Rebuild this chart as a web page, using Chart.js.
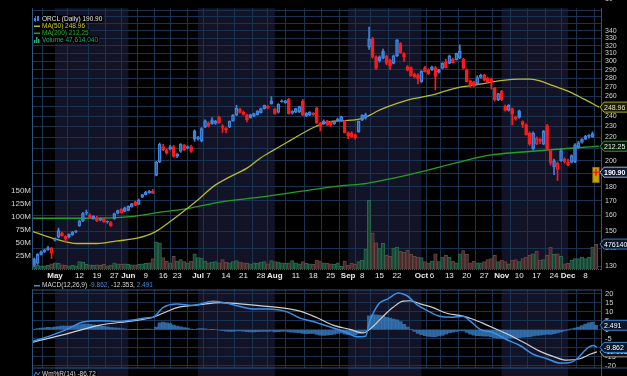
<!DOCTYPE html>
<html lang="en">
<head>
  <meta charset="UTF-8">
  <title>ORCL (Daily)</title>
  <style>
    html, body { margin: 0; padding: 0; background: #000; overflow: hidden; }
    #wrap { position: relative; width: 627px; height: 376px; }
    canvas { position: absolute; left: 0; display: block; }
    #priceChart { top: 0; }
    #macdChart { top: 281px; }
  </style>
</head>
<body>
  <div id="wrap">
    <canvas id="priceChart" width="627" height="281"></canvas>
    <canvas id="macdChart" width="627" height="95"></canvas>
  </div>
  <script src="https://cdn.jsdelivr.net/npm/chart.js"></script>
  <script>
    // trading-day index, 0 = 1 May; first candle is 23 Apr (-6)
    const firstIdx = -6;

    const openP = [
      134, 131.5, 136.5, 138, 139, 137.2, 144.5, 146.5, 148.9, 147,
      146.5, 148, 149.6, 153.4, 156.5, 161.5, 160.3, 158, 158.6, 157,
      157.7, 155.8, 155.4, 158, 161.5, 164.1, 162.7, 163.4, 165.7, 169.1,
      167.3, 172.4, 174.2, 175.5, 176.5, 188.4, 199, 212, 209, 209.6,
      212, 203.5, 207.7, 213.3, 210.6, 212, 226, 219, 217, 229.5,
      233.5, 236.4, 233, 239, 230.7, 228.3, 229.3, 235.2, 241, 246.8,
      244, 241, 241.6, 240, 241.5, 243.5, 247.5, 248, 255.5, 246.8,
      243.6, 254.5, 253.5, 257, 243, 244, 244, 255.5, 240, 241,
      241.5, 248, 233.6, 233.6, 235.5, 234.5, 232.6, 235.5, 235.5, 235.5,
      224.5, 224, 222.5, 225, 236, 238, 318, 329, 305.6, 305.6,
      313, 306.6, 301.7, 297.7, 307, 322.6, 309.6, 293.7, 292.5, 285,
      284, 276.3, 292.5, 290, 290, 292.5, 287, 291.5, 299.6, 297.7,
      302.8, 302, 304.3, 302.8, 290, 277.5, 276, 274, 281, 283.5,
      280.5, 279.5, 269, 256.3, 265.6, 250, 245.6, 247.5, 238.7, 245.2,
      234.7, 231.5, 224, 210, 214, 218.2, 214, 231, 208, 195,
      193, 200, 201.5, 196.5, 198.6, 199, 211.4, 215.5, 218.5, 221,
      220.5
    ];
    const highP = [
      134.5, 137, 138.5, 139.5, 141, 140.5, 146, 152, 149.5, 147.3,
      148.5, 150, 150.5, 157, 162, 163.5, 161, 160, 159.5, 158.5,
      158.5, 156.3, 156, 161.5, 163.5, 164.5, 165.5, 166.5, 168.2, 169.5,
      171, 174.5, 176.5, 177.2, 178, 199.5, 215, 214, 210, 213,
      213, 206, 214.5, 214, 212.5, 213, 227, 221, 229, 236.5,
      234.5, 238.5, 236, 240, 231.5, 229, 235.5, 241.5, 250.7, 248,
      245, 242, 242, 243, 245.5, 248, 251, 250.5, 260, 248,
      252.5, 256.5, 256, 258, 245.5, 248, 250, 257, 243.5, 244.5,
      243.5, 249, 234, 236.5, 236, 235, 235, 238, 240, 236,
      225, 225, 223, 235.5, 241.5, 243, 345, 331, 307, 307,
      315.5, 308, 303, 308, 328, 324, 311, 295, 293.5, 286,
      285.5, 289, 294, 291, 294.5, 294, 290.5, 298.5, 303, 308,
      304, 310.5, 321, 304, 291, 278, 277, 283, 285, 284.5,
      281.5, 280.5, 270, 263.5, 266.5, 251, 251.5, 248, 240, 246,
      235.5, 232.5, 225, 225, 220.5, 219, 226.5, 232, 209, 201.5,
      199, 210, 202.5, 201.5, 205, 214.5, 216.5, 219, 222, 222.5,
      225
    ];
    const lowP = [
      130, 131, 136, 137.5, 138.8, 134.3, 144, 146, 147, 143.5,
      146, 147.5, 149.2, 153, 156, 160.5, 158, 157.5, 156, 156.5,
      155.5, 155, 153, 157.5, 161, 161.5, 162.5, 163, 165.5, 166.5,
      167, 172, 174, 175, 174.8, 188, 198.5, 208.5, 205.5, 209,
      203, 202.5, 207, 208.5, 210, 207, 216.5, 217.5, 216, 229,
      229.5, 232, 232, 233, 224.5, 224, 229, 235, 240.5, 243,
      241, 234.5, 238, 239.5, 241, 243, 247, 247.5, 252, 242,
      243, 254, 253, 242, 242, 243.5, 243.5, 240.5, 239.5, 240.5,
      241, 233, 226, 232, 231, 230, 232, 235, 235, 224,
      219, 220, 218.5, 224.5, 235.5, 237, 315, 304, 290, 299,
      303, 296, 290, 297, 306, 310, 300, 288.5, 282.5, 280.5,
      273.6, 275.5, 287, 284.5, 289, 267, 286, 291, 292, 297,
      298, 301.5, 303.5, 291, 276, 270, 270.5, 273, 280, 277,
      275, 268, 255, 255.5, 255.5, 245, 245, 231.6, 236, 238,
      229, 222, 213, 209, 213.5, 214.5, 213.5, 209, 196.5, 189,
      184.6, 199.5, 198, 196, 198, 198.5, 210.5, 215, 218, 219.3,
      220
    ];
    const closeP = [
      131, 136.5, 138, 139, 140.3, 140, 145.5, 150.4, 147.2, 145.5,
      148.2, 149.5, 150, 156.4, 161.2, 162.3, 158.4, 159.6, 156.6, 158,
      156, 156, 153.4, 161.2, 163.2, 161.9, 165, 166.1, 167.9, 166.7,
      170.4, 174.2, 176, 176.8, 175, 198.9, 214, 209.3, 206.4, 212,
      203.7, 205.7, 214, 209, 212, 208, 218.5, 219.5, 228, 235.4,
      230, 232.6, 235, 233.6, 229.2, 227, 235, 241, 248, 243.6,
      241.6, 236.4, 238.5, 242.5, 245, 247.5, 250.7, 250, 252.2, 242.5,
      252, 255.5, 255.5, 242.5, 245, 247.5, 249.5, 241, 243, 244,
      243, 233.3, 229.9, 235, 231.6, 231, 234.5, 237, 239.5, 224.3,
      221.5, 220.5, 219.5, 235, 241, 241.5, 328.5, 305.6, 291.5, 300.6,
      304, 297.7, 295, 307, 327.5, 310.9, 305.6, 289.6, 283, 281.6,
      279.5, 288, 287.5, 285, 293.5, 282.3, 290, 297.7, 292.5, 307,
      298.6, 310, 312.5, 291.5, 276.3, 273, 271.5, 281, 283.5, 278,
      276, 275, 256.3, 263, 256.5, 245.6, 251, 241.8, 237.5, 238.7,
      231.8, 222.5, 214, 224, 219.5, 216.5, 225.5, 210, 198, 200,
      198, 208.5, 199, 198.8, 204.3, 213.5, 215.5, 218.2, 221, 221.3,
      223.5
    ];
    // millions of shares, one more than the candles (today)
    const volumeM = [
      9, 7, 6, 6, 7, 10, 12, 11, 8, 7,
      6, 7, 6, 14, 13, 9, 8, 7, 8, 7,
      9, 6, 7, 12, 10, 9, 10, 9, 8, 8,
      9, 10, 11, 12, 20, 52, 50, 22, 15, 12,
      24, 15, 18, 14, 12, 15, 29, 22, 21, 15,
      12, 13, 14, 12, 18, 13, 12, 14, 16, 13,
      12, 11, 10, 12, 11, 13, 14, 10, 16, 14,
      13, 12, 11, 12, 16, 12, 10, 14, 11, 10,
      9, 17, 15, 12, 11, 10, 9, 12, 5, 15,
      7, 11, 9, 14, 17, 38, 131, 69, 50, 40,
      49, 26, 24, 40, 42, 34, 32, 36, 28, 24,
      23, 22, 14, 12, 15, 29, 14, 23, 26, 23,
      15, 12, 29, 35, 28, 12, 15, 12, 12, 14,
      18, 20, 26, 14, 17, 14, 10, 17, 18, 14,
      20, 23, 26, 29, 34, 17, 18, 26, 42, 28,
      29, 24, 10, 11, 17, 20, 20, 23, 20, 23,
      42, 47.614
    ];
    const macdHist = [
      0.3, 0.6, 0.9, 1.1, 1.3, 1.2, 1.5, 1.8, 2.0, 2.0,
      2.1, 2.2, 2.3, 2.8, 3.2, 3.2, 3.0, 2.8, 2.4, 2.2,
      1.9, 1.6, 1.2, 1.1, 0.9, 0.6, 0.5, 0.3, 0.2, 0.1,
      0.2, 0.3, 0.4, 0.4, 0.3, 1.5, 3.8, 4.3, 3.9, 3.5,
      2.6, 2.0, 1.7, 1.2, 0.9, 0.4, 0.3, 0.5, 0.6, 0.5,
      0.3, 0.1, 0, -0.3, -0.5, -0.8, -1.0, -0.9, -0.6, -0.6,
      -0.8, -1.1, -1.2, -1.2, -1.1, -1.0, -0.9, -0.9, -0.8, -1.2,
      -1.1, -0.9, -0.8, -1.2, -1.4, -1.5, -1.6, -2.0, -2.2, -2.1,
      -2.0, -2.6, -3.0, -3.1, -3.0, -2.8, -2.5, -2.1, -1.8, -2.4,
      -2.8, -3.0, -2.9, -2.2, -1.5, -0.8, 7.8, 8.3, 8.3, 8.0,
      7.8, 7.0, 6.5, 6.0, 5.5, 4.5, 3.0, 1.5, 0.2, -1.0,
      -2.0, -2.8, -3.3, -3.7, -3.9, -3.8, -3.5, -3.1, -2.5, -1.8,
      -1.3, -0.9, -0.5, -0.6, -1.5, -2.4, -3.0, -3.3, -3.5, -3.6,
      -3.6, -3.9, -4.5, -4.7, -4.9, -4.8, -4.7, -4.6, -4.7, -4.4,
      -4.1, -4.0, -3.8, -3.5, -3.2, -3.0, -2.7, -2.5, -2.6, -2.2,
      -1.8, -1.2, -0.6, -0.1, 0.5, 1.0, 1.5, 2.3, 3.2, 3.9,
      4.3, 2.5
    ];
    // [trading-day index, value]
    const macdLine = [
      [-6.3, -6.4], [-1.4, -3.4], [3.4, 0.2], [8, 4.3], [12.9, 5.1], [17.8, 4.6], [22.3, 5.4],
      [26.4, 6.7], [28.1, 7.0], [30.9, 12.4], [35, 14.4], [39.5, 13.6], [45.3, 16], [51, 14],
      [56.7, 11.6], [60.7, 11.6], [66.5, 10], [70.2, 6.5], [73.9, 4.6], [75.9, 3.4], [79.7, 1],
      [83.7, -1.5], [86.5, -3.9], [89, -3.6], [90, 3.5], [91, 8.5], [93, 14.9], [95.4, 17.3],
      [98.4, 20.6], [100.9, 19], [103.7, 14.1], [106.6, 10.8], [110.3, 7.5], [114, 7], [116.9, 7.5],
      [118.9, 5], [121.8, 0.2], [125.5, -1.5], [129.5, -5.6], [133.2, -8.8], [137, -13.7], [141, -16.2],
      [144.7, -18.6], [147.6, -18.3], [149.6, -16.2], [152.4, -10.5], [154.2, -8.8], [155.3, -9.862]
    ];
    const signalLine = [
      [-6.3, -6.9], [3.4, -2.3], [12.9, 2.6], [22.3, 5], [28.1, 7], [30.9, 9.2], [35, 12.4],
      [41.5, 14], [47.3, 15.2], [53, 14.5], [61.6, 12.9], [70.2, 10.4], [75.1, 6.7], [79.7, 2.6],
      [84.5, 0.2], [88.3, -1.8], [91.1, 1.8], [94, 7.5], [96.8, 12.4], [99.7, 16], [101.7, 16.2],
      [104.6, 14.5], [108.3, 12.4], [112.3, 9.2], [116, 8], [119.8, 5.9], [123.8, 2.6], [127.5, -0.6],
      [131.2, -3.9], [135.2, -8], [139, -12.1], [142.7, -14.9], [146.7, -17], [150.4, -16.2],
      [153.3, -13.7], [155.3, -12.353]
    ];
    const ma50Line = [
      [-6.6, 150.0], [0, 145.4], [6.3, 142.7], [12, 142.7], [17.8, 144.2], [23.5, 145.8], [28.1, 149.0],
      [33, 156.1], [37.8, 164.5], [41.5, 171.7], [45.3, 180.0], [50.1, 187.3], [55, 194.1], [58.7, 201.9],
      [62.5, 208.7], [67.3, 217.1], [73.9, 228.9], [78.8, 234.7], [83.1, 235.6], [88.3, 238.1], [93.1, 246.1],
      [98, 252.7], [102.6, 257.7], [107.4, 261.1], [112.3, 266.3], [116.9, 270.6], [121.8, 273.5],
      [128.4, 277.8], [133.2, 279.0], [136.1, 279.0], [139, 277.1], [142.7, 271.7], [147.6, 264.6],
      [151.3, 257.7], [155.9, 248.96]
    ];
    const ma200Line = [
      [-6.6, 158.2], [12, 158.2], [21.5, 159.2], [30.9, 162.4], [37.8, 164.5], [47.3, 169.0],
      [58.7, 172.4], [70.2, 176.5], [81.7, 180.5], [89.4, 182.4], [96, 185.8], [105.4, 191.6],
      [115.2, 198.5], [124.6, 204.6], [134.1, 207.3], [147.6, 210.5], [155.9, 212.25]
    ];
    const todayIdx = 155;
    const todayRange = [183, 195];
    const lastPrice = 190.90;
    const ma50Last = 248.96;
    const ma200Last = 212.25;
    const lastVolume = 47614040;
    const macdNow = [-9.862, -12.353, 2.491];
    const wmrNow = -86.72;

    const tickIdx = [0, 7, 12, 17, 21, 26, 31, 35, 41, 44, 49, 54, 59, 63, 69, 74, 79,
      84, 88, 93, 98, 105, 108, 113, 118, 123, 128, 133, 138, 143, 147, 152];
    const tickText = ['May', '12', '19', '27', 'Jun', '9', '16', '23', 'Jul', '7', '14', '21', '28',
      'Aug', '11', '18', '25', 'Sep', '8', '15', '22', 'Oct', '6', '13', '20', '27',
      'Nov', '10', '17', '24', 'Dec', '8'];
    const priceTicks = [130, 140, 150, 160, 170, 180, 190, 200, 210, 220, 230, 240, 250, 260,
      270, 280, 290, 300, 310, 320, 330, 340, 350, 360, 370];
    const volTicks = [25, 50, 75, 100, 125, 150];
    const macdTicks = [-20, -15, -10, -5, 0, 5, 10, 15, 20];

    const FONT = '"Liberation Sans", Arial, sans-serif';
    const gridColor = '#1a3350';
    const axisColor = '#2b5580';
    const BLUE = '#3d85e0';
    const RED = '#ff1a1a';
    const xMin = -6.59, xMax = 156.45;

    const labelFor = v => { const k = tickIdx.indexOf(v); return k >= 0 ? tickText[k] : ''; };
    const isMonth = v => /^[A-Z]/.test(labelFor(v));
    const monthStarts = tickIdx.filter(isMonth);

    const up = closeP.map((c, k) => k === 0 || c >= closeP[k - 1]);
    const hollow = closeP.map((c, k) => c >= openP[k]);
    const candleColor = up.map(u => u ? BLUE : RED);
    const bodyFill = closeP.map((c, k) => hollow[k] ? 'rgba(0,0,0,0)' : candleColor[k]);
    const volUp = volumeM.map((v, k) => k < closeP.length ? up[k] : lastPrice >= closeP[closeP.length - 1]);

    function xScale(showLabels) {
      return {
        type: 'linear', min: xMin, max: xMax, offset: false,
        afterBuildTicks: s => { s.ticks = tickIdx.map(v => ({ value: v })); },
        afterFit: s => { s.height = showLabels ? 12 : 0; },
        grid: { color: gridColor, drawTicks: false },
        border: { display: false },
        ticks: {
          display: showLabels, autoSkip: false, maxRotation: 0, minRotation: 0, padding: 2,
          color: '#ececec',
          font: c => ({ family: FONT, size: 8, weight: (c.tick && isMonth(c.tick.value)) ? 'bold' : 'normal' }),
          callback: v => labelFor(v)
        }
      };
    }

    function drawBands(chart, bottom) {
      const { ctx, chartArea: a, scales: { x } } = chart;
      ctx.save();
      ctx.fillStyle = '#000';
      ctx.fillRect(0, 0, chart.width, chart.height);
      ctx.fillStyle = '#131328';
      for (let i = 0; i + 1 < monthStarts.length; i += 2) {
        const x0 = x.getPixelForValue(monthStarts[i]);
        const x1 = x.getPixelForValue(monthStarts[i + 1]);
        ctx.fillRect(x0, a.top, x1 - x0, bottom - a.top);
      }
      ctx.restore();
    }

    function legendRow(ctx, x, y, parts, icon) {
      ctx.save();
      ctx.font = '6.5px ' + FONT;
      ctx.textBaseline = 'middle';
      ctx.textAlign = 'left';
      const w = parts.reduce((s, p) => s + ctx.measureText(p[0]).width, 0);
      ctx.fillStyle = '#000';
      ctx.fillRect(x - 1, y - 3.5, w + 10, 7);
      icon(ctx, x, y);
      let cx = x + 8;
      parts.forEach(([t, c]) => { ctx.fillStyle = c; ctx.fillText(t, cx, y); cx += ctx.measureText(t).width; });
      ctx.restore();
    }
    const lineIcon = color => (ctx, x, y) => { ctx.fillStyle = color; ctx.fillRect(x, y - 0.5, 6, 1.5); };

    function valueBox(ctx, y, text, o) {
      const x = 601;
      ctx.save();
      ctx.beginPath();
      ctx.moveTo(x - 1, y);
      ctx.lineTo(x + 3, y - 5);
      ctx.lineTo(x + 30, y - 5);
      ctx.lineTo(x + 30, y + 5);
      ctx.lineTo(x + 3, y + 5);
      ctx.closePath();
      ctx.fillStyle = o.fill;
      ctx.fill();
      ctx.lineWidth = 1;
      ctx.strokeStyle = o.border;
      ctx.stroke();
      ctx.font = (o.bold ? 'bold ' : '') + '7px ' + FONT;
      ctx.textBaseline = 'middle';
      ctx.textAlign = 'left';
      ctx.fillStyle = o.color;
      ctx.fillText(text, x + 3, y + 0.5);
      ctx.restore();
    }

    const pricePanel = {
      id: 'pricePanel',
      beforeDraw: chart => drawBands(chart, chart.chartArea.bottom),
      afterDraw(chart) {
        const { ctx, chartArea: a, scales } = chart;
        ctx.save();
        ctx.strokeStyle = axisColor;
        ctx.beginPath();
        ctx.moveTo(a.left + 0.5, a.top);
        ctx.lineTo(a.left + 0.5, a.bottom);
        ctx.stroke();
        ctx.strokeStyle = '#2f6a4f';
        ctx.setLineDash([1, 1]);
        ctx.beginPath();
        ctx.moveTo(a.left, a.bottom + 0.5);
        ctx.lineTo(a.right, a.bottom + 0.5);
        ctx.stroke();
        ctx.setLineDash([]);
        ctx.font = '7px ' + FONT;
        ctx.fillStyle = '#d4d4d4';
        ctx.textBaseline = 'middle';
        ctx.fillText('10', 605, -0.5);
        ctx.restore();

        legendRow(ctx, 34, 19, [['ORCL (Daily) ' + lastPrice.toFixed(2), '#e6e6e6']], (c, x, y) => {
          c.fillStyle = BLUE;
          c.fillRect(x, y - 1, 2, 3);
          c.fillRect(x + 3, y - 3, 2, 5);
          c.fillRect(x + 1, y - 3, 0.8, 6);
        });
        legendRow(ctx, 34, 26, [['MA(50) ' + ma50Last.toFixed(2), '#cdcd2a']], lineIcon('#b9b92a'));
        legendRow(ctx, 34, 33, [['MA(200) ' + ma200Last.toFixed(2), '#24b424']], lineIcon('#24a024'));
        legendRow(ctx, 34, 40, [['Volume ' + lastVolume.toLocaleString('en-US'), '#1fa878']], (c, x, y) => {
          c.fillStyle = '#1fa878';
          c.fillRect(x, y, 1.5, 3);
          c.fillRect(x + 2, y - 3, 1.5, 6);
          c.fillRect(x + 4, y - 1, 1.5, 4);
        });

        const y = scales.y, yv = scales.yVol;
        valueBox(ctx, y.getPixelForValue(ma50Last), ma50Last.toFixed(2), { fill: '#1c1c04', border: '#a8a820', color: '#e0e0c8' });
        valueBox(ctx, y.getPixelForValue(ma200Last), ma200Last.toFixed(2), { fill: '#041a04', border: '#28a028', color: '#f0f0f0' });
        valueBox(ctx, y.getPixelForValue(lastPrice), lastPrice.toFixed(2), { fill: '#0c1a33', border: '#9ab0d0', color: '#ffffff', bold: true });
        valueBox(ctx, yv.getPixelForValue(lastVolume / 1e6), String(lastVolume), { fill: '#0a1628', border: '#3d78b8', color: '#ffffff' });
      }
    };

    const macdPanel = {
      id: 'macdPanel',
      beforeDraw: chart => drawBands(chart, chart.height),
      afterDraw(chart) {
        const { ctx, chartArea: a, scales } = chart;
        ctx.save();
        ctx.strokeStyle = axisColor;
        ctx.beginPath();
        ctx.moveTo(a.left, a.top + 0.5);
        ctx.lineTo(a.right, a.top + 0.5);
        ctx.moveTo(a.left, a.bottom + 0.5);
        ctx.lineTo(627, a.bottom + 0.5);
        ctx.moveTo(a.left + 0.5, a.top);
        ctx.lineTo(a.left + 0.5, chart.height);
        ctx.moveTo(a.right + 0.5, a.bottom);
        ctx.lineTo(a.right + 0.5, chart.height);
        ctx.stroke();
        ctx.restore();

        legendRow(ctx, 34, 4.5, [
          ['MACD(12,26,9) ', '#d8d8d8'],
          [macdNow[0].toFixed(3) + ', ', '#3b8fe6'],
          [macdNow[1].toFixed(3) + ', ', '#d8d8d8'],
          [macdNow[2].toFixed(3), '#3b8fe6']
        ], lineIcon('#3b8fe6'));
        legendRow(ctx, 34, 93, [['Wm%R(14) ' + wmrNow.toFixed(2), '#d8d8d8']], (c, x, y) => {
          c.strokeStyle = '#3b8fe6';
          c.lineWidth = 1;
          c.beginPath();
          c.moveTo(x, y + 2); c.lineTo(x + 2, y - 2); c.lineTo(x + 4, y + 1); c.lineTo(x + 6, y - 2);
          c.stroke();
        });

        const y = scales.y;
        valueBox(ctx, y.getPixelForValue(macdNow[2]), macdNow[2].toFixed(3), { fill: '#0a1628', border: '#3d88d0', color: '#ffffff' });
        valueBox(ctx, y.getPixelForValue(macdNow[1]), macdNow[1].toFixed(3), { fill: '#141414', border: '#9a9a9a', color: '#e0e0e0' });
        valueBox(ctx, y.getPixelForValue(macdNow[0]), macdNow[0].toFixed(3), { fill: '#0a1628', border: '#3d88d0', color: '#ffffff' });
      }
    };

    const common = {
      responsive: false,
      maintainAspectRatio: false,
      animation: false,
      devicePixelRatio: 1,
      events: [],
      plugins: { legend: { display: false }, tooltip: { enabled: false } }
    };

    new Chart(document.getElementById('priceChart'), {
      type: 'bar',
      data: {
        datasets: [
          {
            label: 'last', data: [{ x: todayIdx, y: [lastPrice - 0.35, lastPrice + 0.35] }],
            backgroundColor: RED, barThickness: 5, grouped: false, yAxisID: 'y', order: -3
          },
          {
            label: 'lastStem', data: [{ x: todayIdx, y: [lastPrice - 2.5, lastPrice + 2.5] }],
            backgroundColor: RED, barThickness: 1, grouped: false, yAxisID: 'y', order: -2
          },
          {
            label: 'today', data: [{ x: todayIdx, y: todayRange }],
            backgroundColor: '#c8a200', borderColor: '#806a00', borderWidth: 1, borderSkipped: false,
            barThickness: 7, grouped: false, yAxisID: 'y', order: -1
          },
          {
            label: 'ORCL',
            data: openP.map((o, k) => ({ x: firstIdx + k, y: [o, closeP[k]] })),
            backgroundColor: bodyFill, borderColor: candleColor, borderWidth: 1, borderSkipped: false,
            barThickness: 3, minBarLength: 1, grouped: false, yAxisID: 'y', order: 0
          },
          {
            label: 'wickHigh',
            data: openP.map((o, k) => ({ x: firstIdx + k, y: [Math.max(o, closeP[k]), highP[k]] })),
            backgroundColor: candleColor, barThickness: 1, grouped: false, yAxisID: 'y', order: 1
          },
          {
            label: 'wickLow',
            data: openP.map((o, k) => ({ x: firstIdx + k, y: [lowP[k], Math.min(o, closeP[k])] })),
            backgroundColor: candleColor, barThickness: 1, grouped: false, yAxisID: 'y', order: 1
          },
          {
            type: 'line', label: 'MA(50)', data: ma50Line.map(([x, y]) => ({ x, y })),
            borderColor: '#b9b92a', borderWidth: 1.3, pointRadius: 0, cubicInterpolationMode: 'monotone',
            yAxisID: 'y', order: 2
          },
          {
            type: 'line', label: 'MA(200)', data: ma200Line.map(([x, y]) => ({ x, y })),
            borderColor: '#24a024', borderWidth: 1.3, pointRadius: 0, cubicInterpolationMode: 'monotone',
            yAxisID: 'y', order: 2
          },
          {
            label: 'Volume',
            data: volumeM.map((v, k) => ({ x: firstIdx + k, y: v })),
            backgroundColor: volUp.map(u => u ? '#1a4535' : '#452b2b'),
            borderColor: volUp.map(u => u ? '#2a6a4e' : '#684444'),
            borderWidth: 1, borderSkipped: 'start',
            barThickness: 3.5, grouped: false, yAxisID: 'yVol', order: 3
          }
        ]
      },
      options: {
        ...common,
        layout: { padding: 0 },
        scales: {
          x: xScale(true),
          y: {
            type: 'logarithmic', position: 'right', min: 128.6, max: 372.8,
            afterBuildTicks: s => { s.ticks = priceTicks.map(v => ({ value: v })); },
            afterFit: s => { s.width = 26; },
            grid: { color: gridColor, drawTicks: false },
            border: { display: true, color: axisColor },
            ticks: {
              autoSkip: false, color: '#d4d4d4', padding: 4, font: { family: FONT, size: 7 },
              callback: v => v <= 340 ? String(v) : ''
            }
          },
          yVol: {
            type: 'linear', position: 'left', min: 0, max: 498,
            afterBuildTicks: s => { s.ticks = volTicks.map(v => ({ value: v })); },
            afterFit: s => { s.width = 32; },
            grid: { display: false, drawTicks: false },
            border: { display: false },
            ticks: { autoSkip: false, color: '#d4d4d4', padding: 1, font: { family: FONT, size: 8 }, callback: v => v + 'M' }
          }
        }
      },
      plugins: [pricePanel]
    });

    new Chart(document.getElementById('macdChart'), {
      type: 'bar',
      data: {
        datasets: [
          {
            type: 'line', label: 'MACD', data: macdLine.map(([x, y]) => ({ x, y })),
            borderColor: '#3b8fe6', borderWidth: 1.5, pointRadius: 0, cubicInterpolationMode: 'monotone', order: 0
          },
          {
            type: 'line', label: 'Signal', data: signalLine.map(([x, y]) => ({ x, y })),
            borderColor: '#cfcfcf', borderWidth: 1.2, pointRadius: 0, cubicInterpolationMode: 'monotone', order: 1
          },
          {
            label: 'Histogram', data: macdHist.map((v, k) => ({ x: firstIdx + k, y: v })),
            backgroundColor: 'rgba(56,124,190,0.8)', barThickness: 3.5, grouped: false, order: 2
          }
        ]
      },
      options: {
        ...common,
        layout: { padding: { left: 32, right: 0, top: 0, bottom: 6 } },
        scales: {
          x: xScale(false),
          y: {
            type: 'linear', position: 'right', min: -21.1, max: 22.5,
            afterBuildTicks: s => { s.ticks = macdTicks.map(v => ({ value: v })); },
            afterFit: s => { s.width = 26; },
            grid: { color: gridColor, drawTicks: false },
            border: { display: true, color: axisColor },
            ticks: { autoSkip: false, color: '#d4d4d4', padding: 4, font: { family: FONT, size: 7.5 }, callback: v => String(v) }
          }
        }
      },
      plugins: [macdPanel]
    });
  </script>
</body>
</html>
